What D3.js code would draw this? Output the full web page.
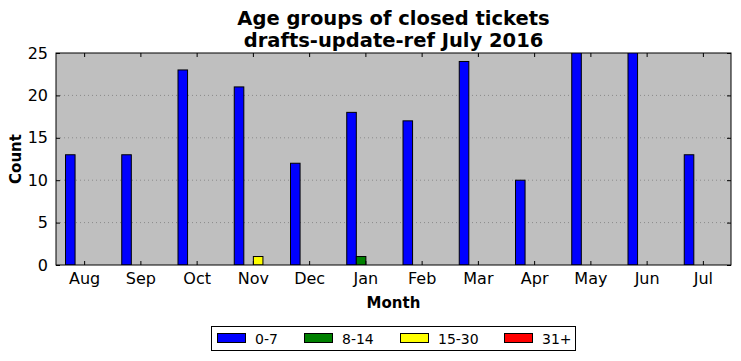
<!DOCTYPE html>
<html>
<head>
<meta charset="utf-8">
<script src="https://cdn.jsdelivr.net/npm/d3@7"></script>
<style>
  body { margin: 0; background: #fff; }
  svg { font-family: "DejaVu Sans", sans-serif; }
</style>
</head>
<body>
<div id="chart"></div>
<script>
// data
const months = ['Aug', 'Sep', 'Oct', 'Nov', 'Dec', 'Jan', 'Feb', 'Mar', 'Apr', 'May', 'Jun', 'Jul'];
const groups = ['0-7', '8-14', '15-30', '31+'];
const colors = ['#0000ff', '#008000', '#ffff00', '#ff0000'];
const age0to7 = [13, 13, 23, 21, 12, 18, 17, 24, 10, 26, 26, 13];
const age8to14 = [0, 0, 0, 0, 0, 1, 0, 0, 0, 0, 0, 0];
const age15to30 = [0, 0, 0, 1, 0, 0, 0, 0, 0, 0, 0, 0];
const age31plus = [0, 0, 0, 0, 0, 0, 0, 0, 0, 0, 0, 0];
const series = [age0to7, age8to14, age15to30, age31plus];
const yTicks = [0, 5, 10, 15, 20, 25];

// svg constants
const W = 741, H = 361;
const margin = { top: 53, right: 10, bottom: 96, left: 56 };
const width = W - margin.left - margin.right;
const height = H - margin.top - margin.bottom;

const svg = d3.select('#chart').append('svg')
    .attr('width', W)
    .attr('height', H);

const g = svg.append('g')
    .attr('transform', 'translate(' + margin.left + ',' + margin.top + ')');

// scales
const x = d3.scaleLinear().domain([-0.5, 11.5]).range([0, width]);
const y = d3.scaleLinear().domain([0, 25]).range([height, 0]);
const barW = x(0.17) - x(0);

// background
g.append('rect')
    .attr('width', width)
    .attr('height', height)
    .attr('fill', '#bfbfbf');

// grid (y only, dotted)
g.selectAll('.grid')
    .data(yTicks.slice(1, -1))
    .enter().append('line')
    .attr('x1', 0).attr('x2', width)
    .attr('y1', d => y(d)).attr('y2', d => y(d))
    .attr('stroke', '#8a8a8a')
    .attr('stroke-width', 1)
    .attr('stroke-dasharray', '1,3');

// clip
svg.append('clipPath').attr('id', 'clip')
    .append('rect').attr('width', width).attr('height', height);

const bars = g.append('g').attr('clip-path', 'url(#clip)');
series.forEach(function (vals, i) {
    bars.selectAll('.bar' + i)
        .data(vals)
        .enter().append('rect')
        .attr('x', (d, j) => x(j) + (i - 2) * barW + 0.5)
        .attr('width', barW)
        .attr('y', d => y(d))
        .attr('height', d => y(0) - y(d))
        .attr('fill', colors[i])
        .attr('stroke', '#000')
        .attr('stroke-width', 1);
});

// axes with inward ticks (classic style)
const tickLen = 4;
const xBottom = d3.axisBottom(x).tickValues(d3.range(12)).tickFormat(i => months[i])
    .tickSizeInner(-tickLen).tickSizeOuter(0).tickPadding(8);
const xTop = d3.axisTop(x).tickValues(d3.range(12)).tickFormat('')
    .tickSizeInner(-tickLen).tickSizeOuter(0);
const yLeft = d3.axisLeft(y).tickValues(yTicks)
    .tickSizeInner(-tickLen).tickSizeOuter(0).tickPadding(8);
const yRight = d3.axisRight(y).tickValues(yTicks).tickFormat('')
    .tickSizeInner(-tickLen).tickSizeOuter(0);

function style(sel) {
    sel.select('.domain').remove();
    sel.selectAll('text').attr('font-size', 16).attr('fill', '#000')
        .attr('font-family', '"DejaVu Sans", sans-serif');
    sel.selectAll('line').attr('stroke', '#000');
}

g.append('g').attr('transform', 'translate(0,' + height + ')').call(xBottom).call(style);
g.append('g').call(xTop).call(style);
g.append('g').call(yLeft).call(style);
g.append('g').attr('transform', 'translate(' + width + ',0)').call(yRight).call(style);

// frame
g.append('rect')
    .attr('width', width)
    .attr('height', height)
    .attr('fill', 'none')
    .attr('stroke', '#000')
    .attr('stroke-width', 1);

// titles
svg.append('text')
    .attr('x', margin.left + width / 2).attr('y', 25)
    .attr('text-anchor', 'middle').attr('font-size', 19.5).attr('font-weight', 'bold')
    .text('Age groups of closed tickets');
svg.append('text')
    .attr('x', margin.left + width / 2).attr('y', 47)
    .attr('text-anchor', 'middle').attr('font-size', 19.5).attr('font-weight', 'bold')
    .text('drafts-update-ref July 2016');

// axis labels
svg.append('text')
    .attr('x', margin.left + width / 2).attr('y', 308)
    .attr('text-anchor', 'middle').attr('font-size', 15).attr('font-weight', 'bold')
    .text('Month');
svg.append('text')
    .attr('transform', 'translate(21,' + (margin.top + height / 2) + ') rotate(-90)')
    .attr('text-anchor', 'middle').attr('font-size', 15).attr('font-weight', 'bold')
    .text('Count');

// legend
const legendX = [217, 304, 400, 504];
const legend = svg.append('g');
legend.append('rect')
    .attr('x', 211.5).attr('y', 326.5)
    .attr('width', 364).attr('height', 24)
    .attr('fill', '#fff').attr('stroke', '#000');
groups.forEach(function (name, i) {
    legend.append('rect')
        .attr('x', legendX[i] + 0.5).attr('y', 333.5)
        .attr('width', 28).attr('height', 9)
        .attr('fill', colors[i]).attr('stroke', '#000');
    legend.append('text')
        .attr('x', legendX[i] + 38).attr('y', 343.5)
        .attr('font-size', 14)
        .text(name);
});
</script>
</body>
</html>
